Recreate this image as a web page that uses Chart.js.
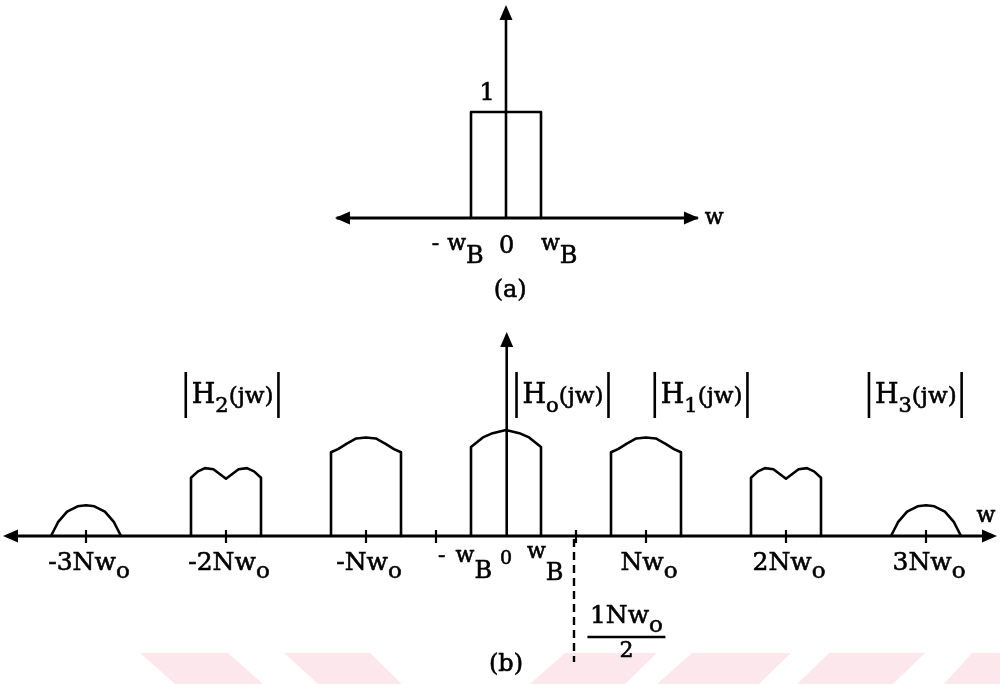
<!DOCTYPE html>
<html>
<head>
<meta charset="utf-8">
<title>Subband filter bank spectra</title>
<script src="https://cdn.jsdelivr.net/npm/chart.js@4"></script>
<style>
  html, body { margin: 0; padding: 0; background: #fff; overflow: hidden; }
  #wrap { position: relative; width: 1000px; height: 684px; }
  canvas { display: block; }
</style>
</head>
<body>
<div id="wrap"><canvas id="spectra" width="1000" height="684"></canvas></div>
<script>
// Frequency in units of N·w_o, magnitude normalised so |H_o(0)| = 1.

// (a) ideal low-pass prototype
const lowpassEdges = [-0.25, 0.25];          // -w_B, w_B
const lowpassGain = 1;

// (b) band centres of the filter bank
const harmonics = [-3, -2, -1, 0, 1, 2, 3];
const bandHalfWidth = 0.25;

// magnitude profiles across each passband (offset from band centre, magnitude)
const h0Offsets = [-0.25, -0.165, -0.095, 0, 0.095, 0.165, 0.25];
const h0Mag     = [0.84, 0.93, 0.97, 1.00, 0.97, 0.93, 0.84];
const h1Offsets = [-0.25, -0.2, -0.14, -0.07, 0, 0.07, 0.14, 0.2, 0.25];
const h1Mag     = [0.79, 0.82, 0.87, 0.92, 0.93, 0.92, 0.87, 0.82, 0.79];
const h2Offsets = [-0.25, -0.2, -0.15, -0.09, -0.04, 0, 0.04, 0.09, 0.15, 0.2, 0.25];
const h2Mag     = [0.55, 0.61, 0.64, 0.63, 0.58, 0.54, 0.58, 0.63, 0.64, 0.61, 0.55];
const h3Offsets = [-0.25, -0.2, -0.135, -0.06, 0, 0.06, 0.135, 0.2, 0.25];
const h3Mag     = [0, 0.13, 0.23, 0.28, 0.29, 0.28, 0.23, 0.13, 0];

// axis ticks and their labels
const harmonicTicks  = [-3, -2, -1, 1, 2, 3];
const harmonicLabels = ['-3Nw_o', '-2Nw_o', '-Nw_o', 'Nw_o', '2Nw_o', '3Nw_o'];
const extraTicks = [-0.5, 0.5];
const foldingFreq = 0.5;                    // N·w_o / 2

// filter captions
const filterLabels = ['H_o(jw)', 'H_1(jw)', 'H_2(jw)', 'H_3(jw)'];
const filterLabelAt = [0.40, 1.39, -1.96, 2.92];

// ---------------------------------------------------------------------------
const profiles = [
  { off: h0Offsets, mag: h0Mag },
  { off: h1Offsets, mag: h1Mag },
  { off: h2Offsets, mag: h2Mag },
  { off: h3Offsets, mag: h3Mag }
];

const FONT = '"DejaVu Serif", "Liberation Serif", serif';
const INK = '#000';

function bandPoints(k) {
  const p = profiles[Math.abs(k)];
  const pts = [{ x: k - bandHalfWidth, y: 0 }];
  p.off.forEach((o, i) => pts.push({ x: k + o, y: p.mag[i] }));
  pts.push({ x: k + bandHalfWidth, y: 0 });
  return pts;
}

const datasets = [];
datasets.push({
  label: 'lowpass',
  yAxisID: 'yA',
  data: [
    { x: lowpassEdges[0], y: 0 }, { x: lowpassEdges[0], y: lowpassGain },
    { x: lowpassEdges[1], y: lowpassGain }, { x: lowpassEdges[1], y: 0 }
  ]
});
harmonics.forEach(k => datasets.push({ label: 'band ' + k, yAxisID: 'yB', data: bandPoints(k) }));
datasets.forEach(d => Object.assign(d, {
  showLine: true, borderColor: INK, borderWidth: 2.6, pointRadius: 0,
  tension: 0, fill: false, borderJoinStyle: 'round'
}));

// text with single-character subscripts written as "_x"
function runs(str, size, subSize, subDy) {
  const out = [];
  let buf = '';
  for (let i = 0; i < str.length; i++) {
    if (str[i] === '_' && i + 1 < str.length) {
      if (buf) out.push({ t: buf, s: size, dy: 0 });
      buf = '';
      out.push({ t: str[i + 1], s: subSize, dy: subDy });
      i++;
    } else buf += str[i];
  }
  if (buf) out.push({ t: buf, s: size, dy: 0 });
  return out;
}
function runsWidth(ctx, rs) {
  let w = 0;
  rs.forEach(r => { ctx.font = r.s + 'px ' + FONT; w += ctx.measureText(r.t).width; });
  return w;
}
function drawRuns(ctx, rs, x, y, align) {
  const w = runsWidth(ctx, rs);
  let cx = align === 'center' ? x - w / 2 : (align === 'right' ? x - w : x);
  ctx.textAlign = 'left';
  ctx.textBaseline = 'alphabetic';
  ctx.fillStyle = INK;
  ctx.strokeStyle = INK;
  ctx.lineWidth = 0.6;
  ctx.setLineDash([]);
  rs.forEach(r => {
    ctx.font = r.s + 'px ' + FONT;
    ctx.fillText(r.t, cx, y + r.dy);
    ctx.strokeText(r.t, cx, y + r.dy);
    cx += ctx.measureText(r.t).width;
  });
  return w;
}
function arrow(ctx, tx, ty, dx, dy, len, half) {
  const bx = tx - dx * len, by = ty - dy * len;
  ctx.beginPath();
  ctx.moveTo(tx, ty);
  ctx.lineTo(bx - dy * half, by + dx * half);
  ctx.lineTo(bx + dy * half, by - dx * half);
  ctx.closePath();
  ctx.fill();
}
function seg(ctx, x1, y1, x2, y2, w) {
  ctx.lineWidth = w;
  ctx.beginPath();
  ctx.moveTo(x1, y1);
  ctx.lineTo(x2, y2);
  ctx.stroke();
}

const sketch = {
  id: 'sketch',
  beforeDraw(chart) {
    const ctx = chart.ctx;
    ctx.save();
    ctx.fillStyle = '#fce8ec';
    const strips = [
      [[140, 653], [228, 653], [263, 684], [175, 684]],
      [[284, 653], [370, 653], [402, 684], [318, 684]],
      [[565, 653], [657, 653], [625, 684], [530, 684]],
      [[692, 653], [791, 653], [759, 684], [657, 684]],
      [[829, 653], [925, 653], [893, 684], [797, 684]],
      [[972, 653], [1060, 653], [1028, 684], [944, 684]]
    ];
    strips.forEach(p => {
      ctx.beginPath();
      ctx.moveTo(p[0][0], p[0][1]);
      for (let i = 1; i < p.length; i++) ctx.lineTo(p[i][0], p[i][1]);
      ctx.closePath();
      ctx.fill();
    });
    ctx.restore();
  },
  afterDatasetsDraw(chart) {
    const ctx = chart.ctx;
    const X = v => chart.scales.x.getPixelForValue(v);
    const YA = v => chart.scales.yA.getPixelForValue(v);
    const YB = v => chart.scales.yB.getPixelForValue(v);
    ctx.save();
    ctx.strokeStyle = INK;
    ctx.fillStyle = INK;
    ctx.lineCap = 'butt';

    // ---- (a) axes
    const a0 = YA(0);
    seg(ctx, X(-1.21), a0, X(1.37), a0, 3);
    arrow(ctx, X(-1.222), a0, -1, 0, 15, 6.5);
    arrow(ctx, X(1.378), a0, 1, 0, 15, 6.5);
    seg(ctx, X(0), a0, X(0), YA(1.9), 2.6);
    arrow(ctx, X(0), YA(2.01), 0, -1, 15, 6.5);

    // ---- (a) labels
    drawRuns(ctx, runs('1', 24, 24, 0), X(-0.135), YA(1.115), 'center');
    drawRuns(ctx, runs('-', 22, 22, 0), X(-0.53), a0 + 32, 'left');
    drawRuns(ctx, runs('w_B', 22, 24, 13), X(-0.42), a0 + 32, 'left');
    drawRuns(ctx, runs('0', 24, 24, 0), X(0.005), a0 + 35, 'center');
    drawRuns(ctx, runs('w_B', 22, 24, 13), X(0.25), a0 + 32, 'left');
    drawRuns(ctx, runs('(a)', 24, 24, 0), X(0.03), a0 + 79, 'center');
    drawRuns(ctx, runs('w', 22, 22, 0), X(1.42), a0 + 6, 'left');

    // ---- (b) axes
    const b0 = YB(0);
    seg(ctx, X(-3.55), b0, X(3.47), b0, 3);
    arrow(ctx, X(-3.593), b0, -1, 0, 15, 6.5);
    arrow(ctx, X(3.507), b0, 1, 0, 15, 6.5);
    seg(ctx, X(0.005), b0, X(0.005), YB(1.85), 2.6);
    arrow(ctx, X(0.005), YB(1.925), 0, -1, 15, 6.5);

    // ticks
    harmonicTicks.concat(extraTicks).forEach(t => seg(ctx, X(t), b0 - 6, X(t), b0 + 7, 2.2));

    // folding frequency marker
    ctx.save();
    ctx.setLineDash([8, 5]);
    seg(ctx, X(foldingFreq) - 2, b0 + 3, X(foldingFreq) - 2, b0 + 126, 2.4);
    ctx.restore();

    // harmonic tick labels
    harmonicTicks.forEach((t, i) => {
      drawRuns(ctx, runs(harmonicLabels[i], 25, 23, 8), X(t) + 3, b0 + 34, 'center');
    });
    drawRuns(ctx, runs('-', 22, 22, 0), X(-0.485), b0 + 26, 'left');
    drawRuns(ctx, runs('w_B', 22, 24, 16), X(-0.36), b0 + 26, 'left');
    drawRuns(ctx, runs('0', 19, 19, 0), X(0), b0 + 28, 'center');
    drawRuns(ctx, runs('w_B', 22, 24, 22), X(0.15), b0 + 22, 'left');

    // N·w_o / 2 fraction
    const fx = X(0.86);
    drawRuns(ctx, runs('1Nw_o', 25, 23, 9), fx, b0 + 87, 'center');
    seg(ctx, fx - 39, b0 + 101, fx + 39, b0 + 101, 2.4);
    drawRuns(ctx, runs('2', 22, 22, 0), fx, b0 + 121, 'center');

    drawRuns(ctx, runs('(b)', 24, 24, 0), X(0.0), b0 + 135, 'center');
    drawRuns(ctx, runs('w', 22, 22, 0), X(3.36), b0 - 14, 'left');

    // filter captions with magnitude bars
    filterLabels.forEach((lab, i) => {
      const cx = X(filterLabelAt[i]);
      const rs = [];
      const m = lab.match(/^H_(.)(.*)$/);
      rs.push({ t: 'H', s: 27, dy: 0 });
      rs.push({ t: m[1], s: 21, dy: 9 });
      rs.push({ t: m[2], s: 23, dy: 0 });
      const w = runsWidth(ctx, rs);
      const base = YB(1.255);
      drawRuns(ctx, rs, cx + 1, base, 'center');
      seg(ctx, cx - w / 2 - 5, YB(1.547), cx - w / 2 - 5, YB(1.113), 2.6);
      seg(ctx, cx + w / 2 + 6, YB(1.547), cx + w / 2 + 6, YB(1.113), 2.6);
    });

    ctx.restore();
  }
};

new Chart(document.getElementById('spectra'), {
  type: 'scatter',
  data: { datasets },
  options: {
    responsive: false,
    devicePixelRatio: 1,
    animation: false,
    layout: { padding: 0 },
    plugins: { legend: { display: false }, tooltip: { enabled: false }, title: { display: false } },
    scales: {
      x:  { type: 'linear', display: false, min: -506 / 140, max: 494 / 140 },
      yA: { type: 'linear', display: false, position: 'left', min: -466 / 106, max: 218 / 106 },
      yB: { type: 'linear', display: false, position: 'left', min: -148 / 106, max: 536 / 106 }
    }
  },
  plugins: [sketch]
});
</script>
</body>
</html>
